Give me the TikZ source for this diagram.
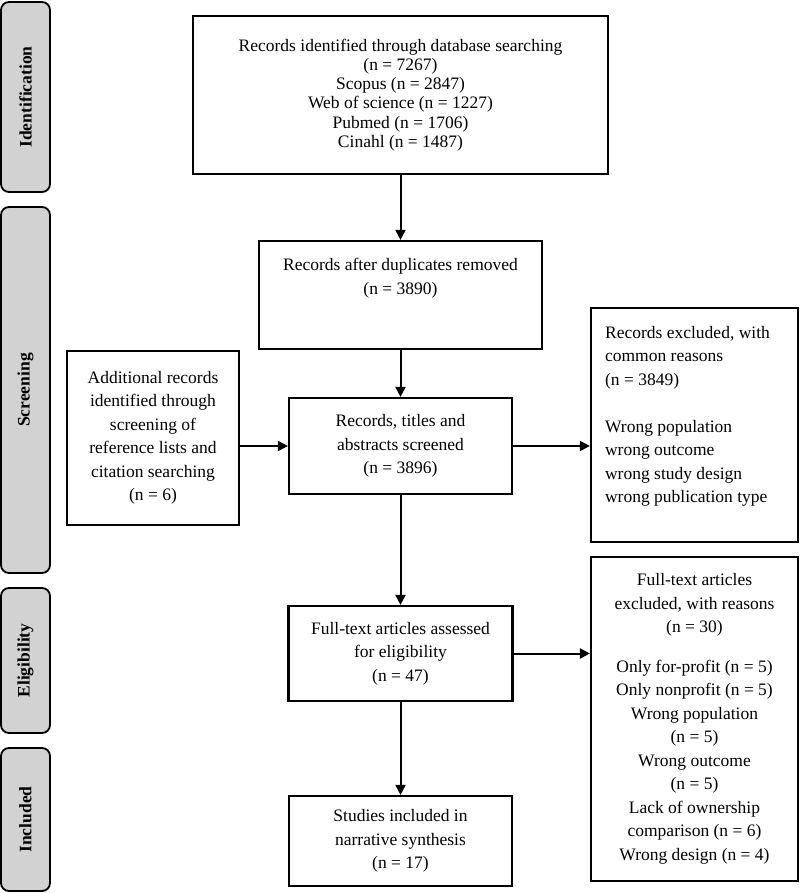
\documentclass[tikz,border=0pt]{standalone}
\usepackage{fontspec}
\setmainfont{Liberation Serif}
\usetikzlibrary{positioning, arrows.meta}

\definecolor{stagegray}{RGB}{210,210,210}
\tikzset{
  box/.style={draw, line width=2.2pt, inner sep=0pt, align=center},
  txt/.style={inner sep=0pt, align=center},
  stage/.style={draw, line width=1.8pt, fill=stagegray, rounded corners=8pt, rotate=90,
    minimum height=49pt, font=\fontsize{17.5}{21}\selectfont\bfseries},
  flow/.style={line width=2pt, -{Triangle[length=10pt,width=10pt]}}
}

\begin{document}
\begin{tikzpicture}[x=1pt, y=-1pt, font=\fontsize{17.5}{23.5}\selectfont]
  \useasboundingbox (0,0) rectangle (800,893);
  %tikz  stages on the left
    \foreach \nm/\yc/\len/\lbl in {ident/97/190/Identification, screen/390/366/Screening,
      elig/660.5/145/Eligibility, incl/819.5/143/Included}{
      \node[stage, minimum width=\len pt] (\nm) at (25.5,\yc) {\lbl};
    }
  %tikz  flow boxes
    \node[box, minimum width=415pt, minimum height=158pt, font=\fontsize{17.5}{19.2}\selectfont]
      (db) at (400.5,95) {Records identified through database searching\\(n = 7267)\\Scopus (n = 2847)\\Web of science (n = 1227)\\Pubmed (n = 1706)\\Cinahl (n = 1487)};
    \node[box, minimum width=283pt, minimum height=108pt] (dup) at (400.5,295) {};
    \node[txt, below=18.5pt of dup.north] (duptxt) {Records after duplicates removed\\(n = 3890)};
    \node[box, minimum width=223pt, minimum height=96pt] (scr) at (400.5,446)
      {Records, titles and\\abstracts screened\\(n = 3896)};
    \node[box, minimum width=172pt, minimum height=174pt] (extra) at (153,438)
      {Additional records\\identified through\\screening of\\reference lists and\\citation searching\\(n = 6)};
    \node[box, minimum width=207pt, minimum height=234pt] (excl) at (694.5,425) {};
    \node[txt, align=left, anchor=north west] (excltxt) at ([xshift=15pt, yshift=-19pt]excl.north west)
      {Records excluded, with\\common reasons\\(n = 3849)\\[23.5pt]Wrong population\\wrong outcome\\wrong study design\\wrong publication type};
    \node[box, minimum width=224pt, minimum height=95pt] (full) at (400.5,653.5)
      {Full-text articles assessed\\for eligibility\\(n = 47)};
    \node[box, minimum width=207pt, minimum height=324pt] (reas) at (694.5,719)
      {Full-text articles\\excluded, with reasons\\(n = 30)\\[16pt]Only for-profit (n = 5)\\Only nonprofit (n = 5)\\Wrong population\\(n = 5)\\Wrong outcome\\(n = 5)\\Lack of ownership\\comparison (n = 6)\\Wrong design (n = 4)};
    \node[box, minimum width=223pt, minimum height=90pt] (stud) at (400.5,841)
      {Studies included in\\narrative synthesis\\(n = 17)};
  %tikz  arrows
    \draw[flow] (db) -- (dup);
    \draw[flow] (dup) -- (scr);
    \draw[flow] (scr) -- (full);
    \draw[flow] (full) -- (stud);
    \draw[flow] (extra.east |- scr) -- (scr.west);
    \draw[flow] (scr) -- (excl.west |- scr);
    \draw[flow] (full) -- (reas.west |- full);
\end{tikzpicture}
\end{document}
